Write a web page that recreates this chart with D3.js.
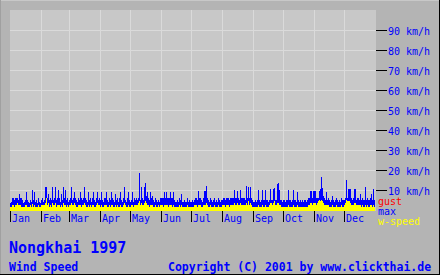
<!DOCTYPE html>
<html><head><meta charset="utf-8">
<script src="https://cdn.jsdelivr.net/npm/d3@7"></script>
<style>html,body{margin:0;padding:0;background:#b4b4b4;}svg{display:block;}</style>
</head><body>
<script>
const months = ["Jan","Feb","Mar","Apr","May","Jun","Jul","Aug","Sep","Oct","Nov","Dec"];
const yTicks = [10,20,30,40,50,60,70,80,90];
const legendItems = ["gust","max","w-speed"];
const maxSpeed = [
 // Jan
 3.5,4,6,6,5,6,6,6,5,8, 6,6,5,3.5,4,5,9,5,4,3.5, 5,4,10,5,9,4,5,3.5,6,4, 3.5,
 // Feb
 5,6,4,5,11.5,11.5,6,8,5,6, 5,11.5,5,6,11.5,5,6,10,6,4, 8,5,11.5,6,10,5,6,4,
 // Mar
 5,6,11.5,5,6,9,6,5,4,6, 5,9,6,5,6,11.5,6,5,4,9, 5,6,4,6,9,5,4,6,9,5, 6,
 // Apr
 5,9,5,4,6,6,9,5,4,6, 5,9,6,5,4,8,5,6,4,6, 9,5,4,6,11.5,5,4,6,9,5,
 // May
 4,5,9,4,6,5,6,5,6,18.5, 5,11.5,6,5,11.5,13.5,7,9,6,5, 9,6,7,5,4,6,5,4,5,4, 6,
 // Jun
 6,6,6,9,6,9,6,6,6,9, 6,6,9,5,4,4,5,4,6,5, 8,4,4,5,4,4,6,4,5,4,
 // Jul
 4,5,4,5,6,6,5,9.5,6,6, 5,4,6,9.5,9.5,12,6,5,4,6, 5,4,5,6,4,5,4,6,5,4, 5,
 // Aug
 5,6,6,5,6,6,6,5,6,6, 6,6,10,6,6,9.5,6,5,10,6, 6,6,6,5,12,6,11.5,6,11.5,6, 5,
 // Sep
 4,4,5,4,5,10,5,4,5,10, 5,5,10,5,5,4,5,10.5,5,5, 10.5,11,5,5,13,13.5,10,5,5,4,
 // Oct
 5,5,4,5,5,10,5,5,4,5, 10,5,5,4,9,5,4,5,4,5, 4,5,5,4,5,6,6,9.5,9.5,6, 9.5,
 // Nov
 9.5,9.5,6,6,6,9.5,10.5,16.5,11,7, 6,5,9,5,6,5,4,5,7,5, 4,5,6,5,4,5,4,6,5,5,
 // Dec
 5,6,15,6,10.5,10.5,10.5,6,5,6, 10.5,10.5,5,6,6,5,8,5,6,5, 5,11.5,5,6,5,5,6,8,5,10.5, 5
];
const windSpeed = [
 // Jan
 1.5,1.5,2.5,2.5,1.5,2.5,2.5,3.5,2.5,2.5, 2.5,1.5,1.5,1.5,1.5,2.5,2.5,1.5,1.5,1.5, 2.5,1.5,3,1.5,2.5,1.5,1.5,1.5,2.5,1.5, 1.5,
 // Feb
 2.5,2.5,2.5,2.5,3.5,6,2.5,3.5,1.5,2.5, 1.5,3.5,2.5,2.5,3.5,1.5,2.5,2.5,2.5,1.5, 2.5,1.5,3.5,2.5,2.5,1.5,2.5,1.5,
 // Mar
 2.5,2.5,3.5,2.5,2.5,3.5,2.5,1.5,1.5,2.5, 2.5,2.5,1.5,2.5,2.5,3.5,2.5,1.5,1.5,2.5, 1.5,2.5,1.5,2.5,2.5,1.5,1.5,2.5,3.5,2.5, 2.5,
 // Apr
 1.5,2.5,1.5,1.5,2.5,2.5,2.5,1.5,1.5,2.5, 1.5,2.5,2.5,1.5,1.5,2.5,1.5,2.5,1.5,1.5, 2.5,1.5,1.5,2.5,3.5,2.5,1.5,1.5,2.5,1.5,
 // May
 1.5,2.5,2.5,1.5,2.5,2.5,2.5,2.5,3.5,4.5, 2.5,3.5,2.5,2.5,3.5,4.5,3.5,2.5,2.5,1.5, 2.5,2.5,2.5,1.5,1.5,2.5,1.5,1.5,2.5,1.5, 2.5,
 // Jun
 2.5,2.5,1.5,2.5,2.5,2.5,2.5,1.5,2.5,2.5, 2.5,1.5,2.5,1.5,1.5,1.5,1.5,1.5,2.5,1.5, 2.5,1.5,1.5,1.5,1.5,1.5,2.5,1.5,1.5,1.5,
 // Jul
 1.5,1.5,1.5,2.5,2.5,2.5,1.5,2.5,2.5,2.5, 1.5,1.5,2.5,2.5,2.5,3.5,2.5,1.5,1.5,2.5, 1.5,1.5,1.5,2.5,1.5,1.5,1.5,2.5,1.5,1.5, 1.5,
 // Aug
 2.5,2.5,2.5,1.5,2.5,2.5,2.5,1.5,2.5,2.5, 2.5,2.5,3.5,2.5,2.5,3.5,2.5,2.5,3.5,2.5, 2.5,2.5,2.5,2.5,3.5,2.5,4.5,2.5,3.5,2.5, 1.5,
 // Sep
 1.5,1.5,1.5,1.5,1.5,2.5,1.5,1.5,1.5,2.5, 1.5,1.5,2.5,1.5,1.5,1.5,2.5,3.5,3.5,2.5, 3.5,4.5,2.5,2.5,3.5,3.5,2.5,2.5,1.5,1.5,
 // Oct
 1.5,1.5,1.5,1.5,1.5,2.5,1.5,1.5,1.5,1.5, 2.5,1.5,1.5,1.5,2.5,1.5,1.5,1.5,1.5,1.5, 1.5,1.5,1.5,1.5,1.5,2.5,2.5,3.5,3.5,2.5, 3.5,
 // Nov
 3.5,3.5,2.5,3.5,4.5,5,4.5,5,4.5,3.5, 2.5,2.5,2.5,2.5,2.5,1.5,1.5,1.5,2.5,1.5, 1.5,1.5,2.5,1.5,1.5,1.5,1.5,2.5,1.5,1.5,
 // Dec
 2.5,3.5,5,4.5,4.5,4.5,3.5,2.5,2.5,2.5, 3.5,3.5,2.5,2.5,2.5,2.5,2.5,1.5,2.5,1.5, 1.5,2.5,1.5,2.5,1.5,1.5,2.5,2.5,1.5,2.5, 1.5
];

const W = 440, H = 275;
const BLUE = "#0000ff", YEL = "#ffff00", RED = "#ff0000";
const mono = "'DejaVu Sans Mono', 'Liberation Mono', monospace";

const svg = d3.select("body").append("svg").attr("width", W).attr("height", H)
  .attr("shape-rendering", "crispEdges");
svg.append("rect").attr("width", W).attr("height", H).attr("fill", "#b4b4b4");

const start = new Date(1997, 0, 1), end = new Date(1998, 0, 1);
const x = d3.scaleTime().domain([start, end]).range([10, 375]);
const y = d3.scaleLinear().domain([0, 100]).range([210, 10]);

// plot background
svg.append("rect").attr("x", 10).attr("y", 10).attr("width", 366).attr("height", 201).attr("fill", "#c8c8c8");

// grid
const monthDates = d3.timeMonth.range(start, end);
svg.append("g").selectAll("line").data(yTicks).join("line")
  .attr("x1", 10).attr("x2", 376).attr("y1", d => y(d) + 0.5).attr("y2", d => y(d) + 0.5)
  .attr("stroke", "#dadada");
svg.append("g").selectAll("line").data(monthDates.slice(1)).join("line")
  .attr("x1", d => Math.round(x(d)) + 0.5).attr("x2", d => Math.round(x(d)) + 0.5)
  .attr("y1", 10).attr("y2", 211).attr("stroke", "#dadada");

// bars
const days = d3.range(365).map(i => d3.timeDay.offset(start, i));
svg.append("g").selectAll("rect").data(maxSpeed).join("rect")
  .attr("x", (d, i) => Math.round(x(days[i]))).attr("width", 1)
  .attr("y", d => Math.round(y(d))).attr("height", d => 211 - Math.round(y(d)))
  .attr("fill", BLUE);
svg.append("g").selectAll("rect").data(windSpeed).join("rect")
  .attr("x", (d, i) => Math.round(x(days[i]))).attr("width", 1)
  .attr("y", d => Math.round(y(d))).attr("height", d => 211 - Math.round(y(d)))
  .attr("fill", YEL);

// right axis
const ra = svg.append("g");
ra.selectAll("line").data(yTicks).join("line")
  .attr("x1", 376).attr("x2", 387).attr("y1", d => y(d) + 0.5).attr("y2", d => y(d) + 0.5)
  .attr("stroke", "#000");
ra.selectAll("text").data(yTicks).join("text")
  .attr("x", 388).attr("y", d => y(d) + 4.5)
  .attr("font-family", mono).attr("font-size", 10).attr("fill", BLUE)
  .text(d => d + " km/h");

// month axis
const ma = svg.append("g");
ma.selectAll("line").data(monthDates).join("line")
  .attr("x1", d => Math.round(x(d)) + 0.5).attr("x2", d => Math.round(x(d)) + 0.5)
  .attr("y1", 211).attr("y2", 222).attr("stroke", "#000");
ma.selectAll("text").data(monthDates).join("text")
  .attr("x", d => Math.round(x(d)) + 2).attr("y", 222)
  .attr("font-family", mono).attr("font-size", 10).attr("fill", BLUE)
  .text((d, i) => months[i]);

// legend
const legColors = [RED, BLUE, YEL];
svg.append("g").selectAll("text").data(legendItems).join("text")
  .attr("x", 378).attr("y", (d, i) => 205 + i * 10)
  .attr("font-family", mono).attr("font-size", 10).attr("fill", (d, i) => legColors[i])
  .text(d => d);

// titles
svg.append("text").attr("x", 9).attr("y", 253)
  .attr("font-family", mono).attr("font-weight", "bold").attr("font-size", 15).attr("fill", BLUE)
  .text("Nongkhai 1997");
svg.append("text").attr("x", 9).attr("y", 271)
  .attr("font-family", mono).attr("font-weight", "bold").attr("font-size", 11.5).attr("fill", BLUE)
  .text("Wind Speed");
svg.append("text").attr("x", 168).attr("y", 271)
  .attr("font-family", mono).attr("font-weight", "bold").attr("font-size", 11.5).attr("fill", BLUE)
  .text("Copyright (C) 2001 by www.clickthai.de");

// border
svg.append("line").attr("x1", 0).attr("x2", W).attr("y1", 0.5).attr("y2", 0.5).attr("stroke", "#c8c8c8");
svg.append("line").attr("x1", 0.5).attr("x2", 0.5).attr("y1", 0).attr("y2", H).attr("stroke", "#a0a0a0");
svg.append("line").attr("x1", 0).attr("x2", W).attr("y1", H - 0.5).attr("y2", H - 0.5).attr("stroke", "#000");
svg.append("line").attr("x1", W - 0.5).attr("x2", W - 0.5).attr("y1", 0).attr("y2", H).attr("stroke", "#000");
</script>
</body></html>
